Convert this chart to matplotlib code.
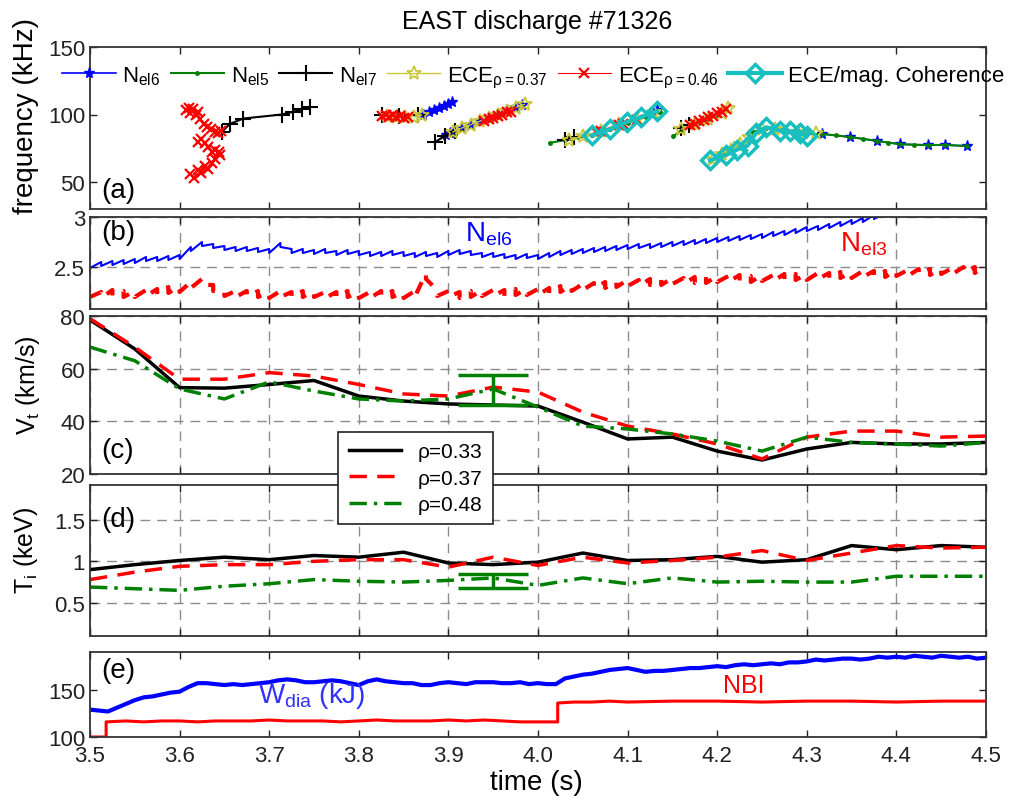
import numpy as np
import matplotlib
matplotlib.use('Agg')
import matplotlib.pyplot as plt

plt.rcParams['font.family'] = ['Liberation Sans', 'DejaVu Sans']
plt.rcParams['mathtext.fontset'] = 'custom'
plt.rcParams['mathtext.rm'] = 'Liberation Sans'
plt.rcParams['mathtext.it'] = 'Liberation Sans:italic'
plt.rcParams['xtick.direction'] = 'in'
plt.rcParams['ytick.direction'] = 'in'
plt.rcParams['xtick.top'] = True
plt.rcParams['ytick.right'] = True
plt.rcParams['axes.linewidth'] = 1.3
plt.rcParams['axes.edgecolor'] = '#333333'

nan = np.nan

# (a) mode frequencies, segments separated by nan
nel6_t = [3.872, 3.878, 3.884, 3.890, 3.895, 3.900, 3.904, nan,
          3.897, 3.902, 3.906, 3.915, 3.925, 3.935, 3.945, 3.955, 3.965, 3.975, 3.982, nan,
          4.125, 4.133, nan,
          4.317, 4.348, 4.378, 4.404, 4.435, 4.454, 4.479]
nel6_f = [100, 101.5, 103, 105, 106.5, 108, 109, nan,
          85, 86.5, 87.5, 90, 92.5, 95, 97.5, 100.5, 103, 105.5, 107, nan,
          101, 103, nan,
          85.6, 83.3, 80.4, 78.0, 77.4, 77.4, 76.7]

nel5_t = [4.013, 4.030, 4.045, 4.060, 4.080, 4.100, 4.120, 4.136, nan,
          4.151, 4.160, 4.170, 4.180, 4.190, 4.200, 4.210, nan,
          4.192, 4.210, 4.225, 4.240, 4.255, 4.270, 4.285, 4.300, 4.317, 4.333,
          4.348, 4.363, 4.378, 4.391, 4.404, 4.420, 4.435, 4.454, 4.479]
nel5_f = [79, 81, 83, 85, 89, 94, 98, 102, nan,
          84, 88, 92, 94, 97, 100, 103, nan,
          66, 72, 76, 87, 90, 89, 87.5, 85.5, 85.6, 84.5,
          83.3, 82, 80.4, 79.2, 78.0, 77.6, 77.4, 77.4, 76.7]

nel7_t = [3.647, 3.656, 3.671, 3.714, 3.727, 3.737, 3.746, nan,
          3.826, 3.845, 3.866, nan,
          3.885, 3.896, 3.907, nan,
          4.030, 4.040, nan,
          4.160, 4.168]
nel7_f = [87, 93, 97, 100, 102, 104, 105.6, nan,
          99.6, 99, 99.6, nan,
          79.6, 84, 88, nan,
          81, 83, nan,
          90, 92]

ece37_t = [3.832, 3.842, 3.852, 3.862, 3.870, nan,
           3.905, 3.915, 3.925, 3.935, 3.945, 3.955, 3.965, 3.975, 3.985, nan,
           4.035, 4.050, 4.070, 4.090, 4.110, 4.130, nan,
           4.160, 4.175, 4.190, 4.205, 4.212, nan,
           4.195, 4.205, 4.215, 4.225, 4.235, 4.250, 4.265, 4.290, 4.310]
ece37_f = [99, 98.5, 98, 98.5, 99.5, nan,
           87, 90, 92.5, 95, 97.5, 100, 102.5, 105, 107.5, nan,
           81, 84, 88, 93, 97, 102, nan,
           89, 93, 97, 101, 105, nan,
           67, 71, 74, 78, 83, 89, 89, 87, 86]

ece46_t = [3.607, 3.610, 3.612, 3.615, 3.618, 3.620, 3.623, 3.627, 3.631, 3.635, 3.639, 3.643, 3.646, nan,
           3.620, 3.624, 3.628, 3.632, 3.636, 3.640, 3.645, nan,
           3.612, 3.616, 3.620, 3.624, 3.628, 3.632, 3.636, 3.640, 3.644, nan,
           3.826, 3.830, 3.834, 3.838, 3.842, 3.846, 3.850, 3.855, nan,
           3.940, 3.945, 3.950, 3.955, 3.960, 3.965, 3.970, nan,
           4.065, 4.070, 4.090, 4.095, 4.110, nan,
           4.170, 4.175, 4.180, 4.185, 4.190, 4.195, 4.200, 4.205, 4.210]
ece46_f = [103, 105, 101, 104, 100, 102, 97, 93, 91, 89, 87, 86, 88, nan,
           80, 82, 79, 76, 72, 74, 70, nan,
           56, 53, 59, 57, 62, 60, 64, 67, 72, nan,
           99, 100, 98.5, 99.5, 98, 99, 97.5, 98, nan,
           95, 96.5, 97.5, 99, 100, 101.5, 102, nan,
           87, 88, 92, 93, 96, nan,
           92, 93, 95, 96, 98, 99, 101, 102, 104]

coh_t = [4.060, 4.080, 4.099, 4.115, 4.133, nan,
         4.192, 4.210, 4.222, 4.234, 4.243, 4.255, 4.270, 4.281, 4.292, 4.300]
coh_f = [84.5, 89, 94.5, 98, 102.5, nan,
         66, 70, 74, 77, 86, 90.5, 88, 87.5, 86.5, 84]

# (b) line-integrated density, pre-crash levels every 12.5 ms
saw_time = np.round(np.arange(3.5, 4.5001, 0.0125), 4)
nel6_peak = [2.53, 2.55, 2.56, 2.57, 2.58, 2.60, 2.60, 2.61, 2.62, 2.70,
             2.75, 2.73, 2.71, 2.70, 2.70, 2.69, 2.68, 2.74, 2.68, 2.68,
             2.67, 2.68, 2.66, 2.67, 2.66, 2.65, 2.65, 2.66, 2.65, 2.64,
             2.65, 2.64, 2.66, 2.67, 2.66, 2.64, 2.64, 2.63, 2.62, 2.63,
             2.62, 2.64, 2.66, 2.67, 2.68, 2.69, 2.70, 2.71, 2.72, 2.73,
             2.73, 2.74, 2.75, 2.76, 2.77, 2.78, 2.79, 2.80, 2.81, 2.82,
             2.83, 2.85, 2.86, 2.88, 2.90, 2.91, 2.93, 2.95, 2.97, 2.99,
             3.02, 3.04, 3.06, 3.08, 3.09, 3.10, 3.11, 3.12, 3.13, 3.14, 3.15]
nel3_peak = [2.26, 2.25, 2.27, 2.26, 2.26, 2.27, 2.28, 2.30, 2.31, 2.35,
             2.38, 2.32, 2.27, 2.26, 2.26, 2.26, 2.25, 2.26, 2.25, 2.26,
             2.26, 2.25, 2.25, 2.26, 2.25, 2.25, 2.26, 2.26, 2.25, 2.26,
             2.44, 2.27, 2.26, 2.25, 2.26, 2.27, 2.27, 2.27, 2.28, 2.28,
             2.28, 2.29, 2.31, 2.32, 2.33, 2.34, 2.35, 2.36, 2.37, 2.37,
             2.38, 2.38, 2.39, 2.39, 2.40, 2.40, 2.41, 2.41, 2.42, 2.41,
             2.42, 2.42, 2.43, 2.43, 2.43, 2.44, 2.44, 2.45, 2.45, 2.46,
             2.46, 2.46, 2.47, 2.47, 2.48, 2.48, 2.49, 2.49, 2.50, 2.50, 2.51]
nel6_drop = 0.04
nel3_drop = 0.06

# (c), (d) CXRS profiles
prof_time = [3.50, 3.55, 3.60, 3.65, 3.70, 3.75, 3.80, 3.85, 3.90, 3.95, 4.00,
             4.05, 4.10, 4.15, 4.20, 4.25, 4.30, 4.35, 4.40, 4.45, 4.50]
vt_033 = [78.5, 67.5, 52.8, 52.6, 54.0, 55.5, 49.6, 47.7, 46.6, 46.2, 45.8,
          39.7, 33.3, 34.0, 28.7, 25.3, 29.5, 32.0, 31.4, 31.4, 32.0]
vt_037 = [79.0, 68.2, 56.0, 56.0, 58.5, 57.2, 54.0, 50.4, 49.6, 53.0, 51.1,
          43.5, 38.2, 35.2, 31.4, 25.7, 34.0, 36.3, 36.3, 34.0, 34.4]
vt_048 = [68.2, 63.0, 52.3, 48.5, 55.0, 51.5, 48.5, 47.7, 48.5, 52.3, 45.4,
          38.2, 37.1, 35.2, 32.5, 28.7, 34.0, 32.0, 31.4, 30.6, 32.0]
ti_033 = [0.90, 0.96, 1.01, 1.05, 1.02, 1.07, 1.05, 1.11, 0.98, 0.96, 0.99,
          1.10, 1.01, 1.02, 1.06, 0.99, 1.02, 1.19, 1.14, 1.19, 1.17]
ti_037 = [0.78, 0.87, 0.94, 0.96, 0.96, 1.00, 1.02, 1.02, 0.93, 1.05, 0.95,
          1.05, 0.98, 1.01, 1.05, 1.13, 1.01, 1.10, 1.19, 1.16, 1.17]
ti_048 = [0.69, 0.67, 0.65, 0.70, 0.73, 0.78, 0.76, 0.75, 0.77, 0.80, 0.71,
          0.80, 0.73, 0.80, 0.75, 0.76, 0.75, 0.75, 0.82, 0.82, 0.82]
err_time = 3.95
vt_err_mid, vt_err = 51.9, 5.7
ti_err_mid, ti_err = 0.76, 0.085

# (e) stored energy and NBI
wdia_time = np.round(np.arange(3.5, 4.5001, 0.01), 3)
wdia = [129, 128, 127, 131, 135, 139, 142, 143, 145, 147,
        148, 153, 157, 157, 156, 155, 156, 155, 156, 157,
        158, 160, 161, 160, 158, 158, 159, 160, 159, 157,
        155, 159, 161, 159, 158, 157, 157, 155, 155, 157,
        158, 157, 156, 158, 158, 158, 157, 157, 158, 156,
        157, 156, 156, 162, 164, 166, 167, 169, 171, 172,
        173, 171, 169, 170, 170, 171, 172, 173, 173, 174,
        175, 174, 176, 177, 176, 177, 178, 177, 179, 179,
        180, 182, 181, 182, 183, 183, 182, 183, 185, 184,
        185, 184, 186, 185, 184, 186, 185, 184, 185, 183, 184]
nbi_time = [3.500, 3.518, 3.518, 3.540, 3.560, 3.580, 3.600, 3.620, 3.640, 3.660,
            3.680, 3.700, 3.720, 3.740, 3.760, 3.780, 3.800, 3.820, 3.840, 3.860,
            3.880, 3.900, 3.920, 3.940, 3.960, 3.980, 4.000, 4.022, 4.022, 4.040,
            4.060, 4.080, 4.100, 4.150, 4.200, 4.250, 4.300, 4.350, 4.400, 4.450, 4.500]
nbi = [100, 100, 116, 117, 116, 117, 117, 116, 117, 117,
       117, 118, 117, 117, 117, 116, 117, 118, 117, 117,
       117, 118, 117, 118, 117, 116, 116, 116, 136, 137,
       137, 138, 137, 138, 138, 137, 138, 138, 137, 138, 138]


def sawtooth(t, peak, drop):
    # ramp from the post-crash level up to the next pre-crash level
    xs, ys = [], []
    for i in range(len(t) - 1):
        xs += [t[i], t[i + 1]]
        ys += [peak[i] - drop, peak[i + 1]]
    return xs, ys


W, H = 1019, 803
fig = plt.figure(figsize=(W / 100, H / 100), dpi=100)


def panel(top, bottom):
    left, right = 90, 986
    return fig.add_axes([left / W, 1 - bottom / H, (right - left) / W, (bottom - top) / H])


ax_a = panel(48, 210)
ax_b = panel(218, 310)
ax_c = panel(317, 475)
ax_d = panel(486, 637)
ax_e = panel(653, 738)
axes = [ax_a, ax_b, ax_c, ax_d, ax_e]

grid_kw = dict(color='#8c8c8c', linestyle=(0, (7, 5)), linewidth=1.0)
for ax in axes:
    ax.set_xlim(3.5, 4.5)
    ax.set_xticks(np.round(np.arange(3.5, 4.51, 0.1), 1))
    ax.tick_params(labelsize=16, length=5, width=1, colors='#222222')
    if ax is not ax_e:
        ax.set_xticklabels([])
for ax in [ax_b, ax_c, ax_d]:
    ax.set_axisbelow(True)
    ax.grid(True, **grid_kw)

lab_kw = dict(fontsize=20, va='center')

# (a)
ax_a.plot(nel6_t, nel6_f, color='#0000ff', marker='*', ms=8, lw=1.2, label=r'N$_{\rm el6}$')
ax_a.plot(nel5_t, nel5_f, color='#008000', marker='.', ms=5, lw=1.5, label=r'N$_{\rm el5}$')
ax_a.plot(nel7_t, nel7_f, color='black', marker='+', ms=11, mew=1.5, lw=1.5, label=r'N$_{\rm el7}$')
ax_a.plot(ece37_t, ece37_f, color='#c8c83a', marker='*', ms=10, mfc='none', mew=1.3, lw=1.0,
          label=r'ECE$_{\rm ρ{=}0.37}$')
ax_a.plot(ece46_t, ece46_f, color='#ff0000', marker='x', ms=7, mew=1.6, lw=0.8,
          label=r'ECE$_{\rm ρ{=}0.46}$')
ax_a.plot(coh_t, coh_f, color='#19bfbf', marker='D', ms=9, mfc='none', mew=2.5, lw=3,
          label='ECE/mag. Coherence')
ax_a.set_ylim(30, 150)
ax_a.set_yticks([50, 100, 150])
ax_a.legend(ncol=6, loc='center left', bbox_to_anchor=(-0.031, 0.815), frameon=False, fontsize=16,
            handlelength=2.4, columnspacing=0.45, handletextpad=0.3, borderaxespad=0, borderpad=0)
ax_a.text(0.013, 0.12, '(a)', transform=ax_a.transAxes, **lab_kw)

# (b)
xs, ys = sawtooth(saw_time, nel6_peak, nel6_drop)
ax_b.plot(xs, ys, color='#0000ff', lw=1.5)
xs, ys = sawtooth(saw_time, nel3_peak, nel3_drop)
ax_b.plot(xs, ys, color='#ff0000', lw=3, linestyle=(0, (3, 3)))
ax_b.set_ylim(2.08, 3.0)
ax_b.set_yticks([2.5, 3])
ax_b.set_yticklabels(['2.5', '3'])
ax_b.text(0.013, 0.837, '(b)', transform=ax_b.transAxes, **lab_kw)
ax_b.text(3.918, 2.76, r'N$_{\rm el6}$', color='#0000ff', fontsize=20, va='baseline')
ax_b.text(4.337, 2.66, r'N$_{\rm el3}$', color='#ff0000', fontsize=20, va='baseline')

# (c)
ax_c.plot(prof_time, vt_033, color='black', lw=2.5, label='ρ=0.33')
ax_c.plot(prof_time, vt_037, color='#ff0000', lw=2.5, linestyle=(0, (5, 3)), label='ρ=0.37')
ax_c.plot(prof_time, vt_048, color='#008000', lw=2.5, linestyle=(0, (5, 2, 1, 2)), label='ρ=0.48')
ax_c.errorbar([err_time], [vt_err_mid], yerr=[vt_err], fmt='none', ecolor='#008000',
              elinewidth=2.5, capsize=25, capthick=2.5)
ax_c.set_ylim(20, 80)
ax_c.set_yticks([20, 40, 60, 80])
ax_c.text(0.013, 0.152, '(c)', transform=ax_c.transAxes, **lab_kw)
leg = ax_c.legend(loc='upper left', bbox_to_anchor=(0.277, 0.266), fontsize=15, handlelength=2.5,
                  framealpha=1, edgecolor='#222222', fancybox=False, borderpad=0.5,
                  labelspacing=0.35, borderaxespad=0)
leg.get_frame().set_linewidth(1.2)
ax_c.set_zorder(5)

# (d)
ax_d.plot(prof_time, ti_033, color='black', lw=2.5)
ax_d.plot(prof_time, ti_037, color='#ff0000', lw=2.5, linestyle=(0, (5, 3)))
ax_d.plot(prof_time, ti_048, color='#008000', lw=2.5, linestyle=(0, (5, 2, 1, 2)))
ax_d.errorbar([err_time], [ti_err_mid], yerr=[ti_err], fmt='none', ecolor='#008000',
              elinewidth=2.5, capsize=25, capthick=2.5)
ax_d.set_ylim(0.1, 1.92)
ax_d.set_yticks([0.5, 1, 1.5])
ax_d.set_yticklabels(['0.5', '1', '1.5'])
ax_d.text(0.013, 0.775, '(d)', transform=ax_d.transAxes, **lab_kw)

# (e)
ax_e.plot(wdia_time, wdia, color='#0000ff', lw=3)
ax_e.plot(nbi_time, nbi, color='#ff0000', lw=2.2)
ax_e.set_ylim(100, 190)
ax_e.set_yticks([100, 150])
ax_e.text(0.013, 0.79, '(e)', transform=ax_e.transAxes, **lab_kw)
ax_e.text(3.6875, 137, r'W$_{\rm dia}$ (kJ)', color='#3030ff', fontsize=20, va='baseline')
ax_e.text(4.2065, 147.6, 'NBI', color='#ff0000', fontsize=18, va='baseline')
ax_e.tick_params(axis='x', pad=6)

fig.text(537 / W, 1 - 22 / H, 'EAST discharge #71326', ha='center', va='center', fontsize=18)
fig.text(26 / W, 1 - 116 / H, 'frequency (kHz)', rotation=90, ha='center', va='center', fontsize=20)
fig.text(28 / W, 1 - 385 / H, r'V$_{\rm t}$ (km/s)', rotation=90, ha='center', va='center', fontsize=18)
fig.text(26 / W, 1 - 550 / H, r'T$_{\rm i}$ (keV)', rotation=90, ha='center', va='center', fontsize=18)
fig.text(536 / W, 1 - 783 / H, 'time (s)', ha='center', va='center', fontsize=20)

fig.savefig('out.png', dpi=100)
